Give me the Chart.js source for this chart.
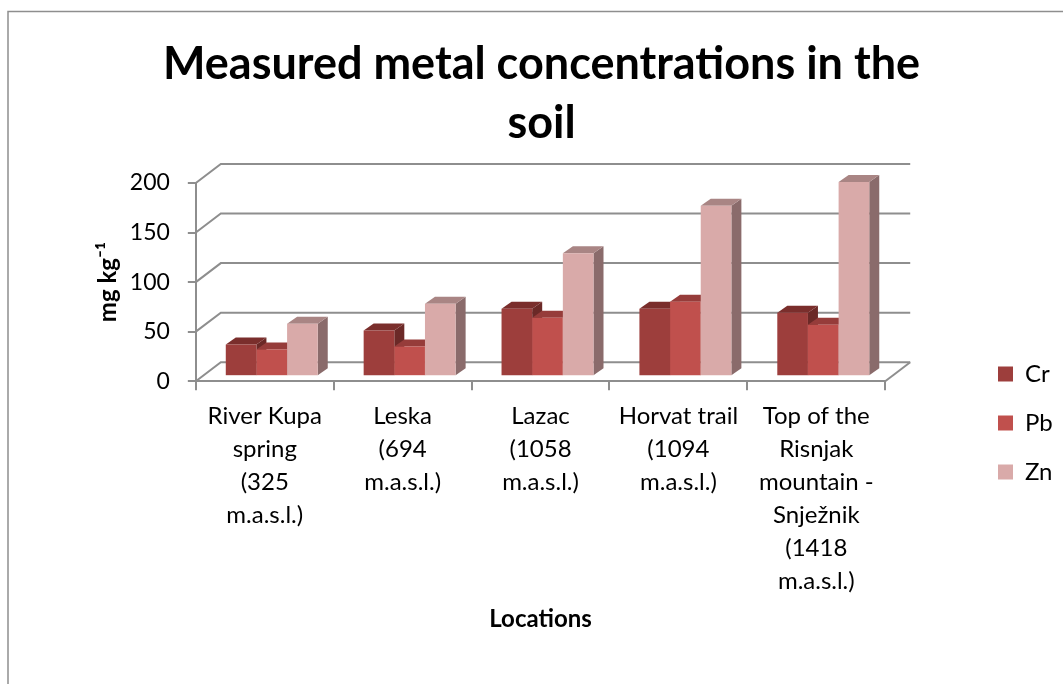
<!DOCTYPE html>
<html>
<head>
<meta charset="utf-8">
<script src="https://cdn.jsdelivr.net/npm/chart.js@4"></script>
<style>
  html, body { margin: 0; padding: 0; background: #fff; }
  canvas { display: block; }
</style>
</head>
<body>
<canvas id="soilChart" width="1063" height="684"></canvas>
<script>
const locations = [
    ['River Kupa', 'spring', '(325', 'm.a.s.l.)'],
    ['Leska', '(694', 'm.a.s.l.)'],
    ['Lazac', '(1058', 'm.a.s.l.)'],
    ['Horvat trail', '(1094', 'm.a.s.l.)'],
    ['Top of the', 'Risnjak', 'mountain -', 'Snježnik', '(1418', 'm.a.s.l.)']
];
const cr = [32, 46, 68, 68, 64];
const pb = [27, 30, 59, 75, 52];
const zn = [53, 73, 124, 172, 196];

const axisGrey = '#8e8e8e';
const fontName = 'Lato, Carlito, sans-serif';

// faces of the fake 3D columns: [front, top, side]
const crFaces = ['#9d3e3c', '#7a2e2c', '#6b2927'];
const pbFaces = ['#c0504d', '#963c3a', '#843331'];
const znFaces = ['#d9aaa9', '#a98584', '#8a6b6b'];

const wall = { dx: 25, dy: -19 };
const barShift = { dx: 7, dy: -5 };
const barDepth = { dx: 10, dy: -7 };

const faces3d = {
    id: 'faces3d',
    beforeDraw(chart) {
        // outer frame, only top and left show in the picture
        const c = chart.ctx;
        c.save();
        c.strokeStyle = axisGrey;
        c.lineWidth = 1.5;
        c.beginPath();
        c.moveTo(8, 684);
        c.lineTo(8, 11.5);
        c.lineTo(1063, 11.5);
        c.stroke();
        c.restore();
    },
    afterLayout(chart) {
        // Excel puts the legend lower than the chart area, title a bit right
        const lg = chart.legend;
        lg.left = 973;
        lg.right = 1063;
        lg.top += 89;
        lg.bottom += 89;
        chart.titleBlock.left += 9;
        chart.titleBlock.right += 9;
    },
    beforeDatasetsDraw(chart) {
        const c = chart.ctx;
        const area = chart.chartArea;
        const y = chart.scales.y;

        c.save();
        c.strokeStyle = axisGrey;
        c.lineWidth = 2;
        y.ticks.forEach(t => {
            const py = y.getPixelForValue(t.value);
            c.beginPath();
            c.moveTo(area.left, py);
            c.lineTo(area.left + wall.dx, py + wall.dy);
            c.lineTo(area.right + wall.dx, py + wall.dy);
            c.stroke();
        });
        c.beginPath();
        c.moveTo(area.right, area.bottom);
        c.lineTo(area.right + wall.dx, area.bottom + wall.dy);
        c.stroke();

        c.translate(barShift.dx, barShift.dy);
        chart.data.datasets.forEach((ds, i) => {
            const colours = ds.faces;
            chart.getDatasetMeta(i).data.forEach(bar => {
                const p = bar.getProps(['x', 'y', 'base', 'width'], true);
                const l = p.x - p.width / 2;
                const r = p.x + p.width / 2;
                c.fillStyle = colours[2];
                c.beginPath();
                c.moveTo(r, p.base);
                c.lineTo(r + barDepth.dx, p.base + barDepth.dy);
                c.lineTo(r + barDepth.dx, p.y + barDepth.dy);
                c.lineTo(r, p.y);
                c.fill();
                c.fillStyle = colours[1];
                c.beginPath();
                c.moveTo(l, p.y);
                c.lineTo(l + barDepth.dx, p.y + barDepth.dy);
                c.lineTo(r + barDepth.dx, p.y + barDepth.dy);
                c.lineTo(r, p.y);
                c.fill();
                bar.draw(c);
            });
        });
        c.restore();
        return false;
    }
};

new Chart(document.getElementById('soilChart').getContext('2d'), {
    type: 'bar',
    data: {
        labels: locations,
        datasets: [
            { label: 'Cr', data: cr, backgroundColor: crFaces[0], faces: crFaces },
            { label: 'Pb', data: pb, backgroundColor: pbFaces[0], faces: pbFaces },
            { label: 'Zn', data: zn, backgroundColor: znFaces[0], faces: znFaces }
        ]
    },
    plugins: [faces3d],
    options: {
        responsive: false,
        animation: false,
        events: [],
        color: '#000',
        categoryPercentage: 0.667,
        barPercentage: 1,
        layout: { padding: { left: 90, right: 88, top: 34, bottom: 50 } },
        plugins: {
            tooltip: { enabled: false },
            title: {
                display: true,
                text: ['Measured metal concentrations in the', 'soil'],
                color: '#000',
                font: { family: fontName, size: 45, weight: 'bold', lineHeight: 1.333 },
                padding: { top: 0, bottom: 29 }
            },
            legend: {
                position: 'right',
                labels: {
                    color: '#000',
                    boxWidth: 15,
                    boxHeight: 15,
                    padding: 25,
                    font: { family: fontName, size: 24 }
                }
            }
        },
        scales: {
            x: {
                grid: { drawOnChartArea: false, color: axisGrey, lineWidth: 2, tickLength: 9 },
                border: { color: axisGrey, width: 2 },
                ticks: {
                    color: '#000',
                    autoSkip: false,
                    maxRotation: 0,
                    padding: 10,
                    font: { family: fontName, size: 24, lineHeight: 1.375 }
                },
                title: {
                    display: true,
                    text: 'Locations',
                    color: '#000',
                    padding: { top: -3, bottom: 0 },
                    font: { family: fontName, size: 24, weight: 'bold' }
                }
            },
            y: {
                min: 0,
                max: 200,
                grid: { drawOnChartArea: false, color: axisGrey, lineWidth: 2, tickLength: 8 },
                border: { color: axisGrey, width: 2 },
                ticks: {
                    color: '#000',
                    stepSize: 50,
                    padding: 18,
                    font: { family: fontName, size: 23 }
                },
                title: {
                    display: true,
                    text: 'mg kg⁻¹',
                    color: '#000',
                    padding: { top: 4, bottom: -11 },
                    font: { family: fontName, size: 24, weight: 'bold' }
                }
            }
        }
    }
});
</script>
</body>
</html>
